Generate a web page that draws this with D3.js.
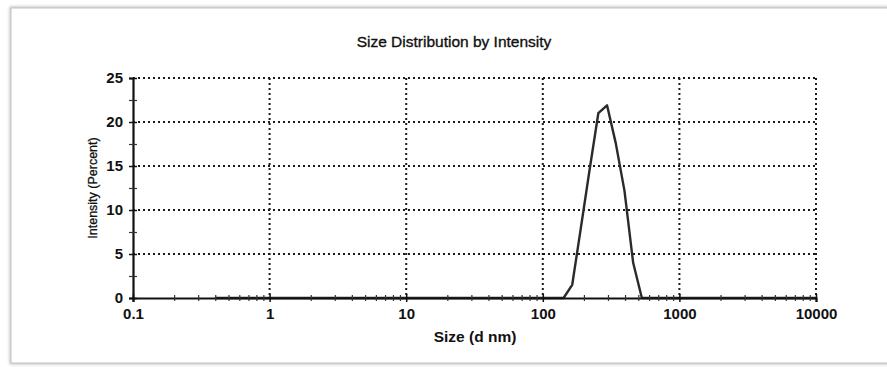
<!DOCTYPE html>
<html>
<head>
<meta charset="utf-8">
<script src="https://cdn.jsdelivr.net/npm/d3@7"></script>
<style>
  body { margin: 0; background: #fff; }
  text { font-family: "Liberation Sans", Arial, sans-serif; fill: #111; }
</style>
</head>
<body>
<script>
// size bins (d nm) and intensity (%)
const sizes = [0.4, 141.8, 164.2, 190.1, 220.2, 255.0, 295.3, 342.0, 396.1, 458.7, 531.2, 10000];
const intensity = [0, 0, 1.5, 8.0, 14.6, 21.0, 21.9, 17.6, 12.2, 4.0, 0, 0];
const xTicks = [0.1, 1, 10, 100, 1000, 10000];
const xTickLabels = ["0.1", "1", "10", "100", "1000", "10000"];
const yTicks = [0, 5, 10, 15, 20, 25];
const yMinorTicks = [2.5, 7.5, 12.5, 17.5, 22.5];

const WIDTH = 887, HEIGHT = 367;
const LEFT = 133, RIGHT = 816, TOP = 78, BOTTOM = 298;

var xScale = d3.scaleLog().domain([0.1, 10000]).range([LEFT, RIGHT]);
var yScale = d3.scaleLinear().domain([0, 25]).range([BOTTOM, TOP]);

var xMinor = [];
xTicks.slice(0, -1).forEach(function (d) {
  for (var k = 2; k <= 9; k++) xMinor.push(d * k);
});

var svg = d3.select("body").append("svg")
    .attr("width", WIDTH)
    .attr("height", HEIGHT);

// outer frame with soft shadow
var defs = svg.append("defs");
var f = defs.append("filter").attr("id", "sh").attr("x", "-5%").attr("y", "-5%").attr("width", "110%").attr("height", "110%");
f.append("feGaussianBlur").attr("stdDeviation", 1.5);
svg.append("rect")
    .attr("x", 11).attr("y", 8).attr("width", 900).attr("height", 355)
    .attr("fill", "none").attr("stroke", "#b5b5b5").attr("stroke-width", 2.5)
    .attr("filter", "url(#sh)");
svg.append("rect")
    .attr("x", 11).attr("y", 8).attr("width", 900).attr("height", 355)
    .attr("fill", "#fff").attr("stroke", "#c4c4c4").attr("stroke-width", 1);

// title
svg.append("text")
    .attr("x", 454).attr("y", 47)
    .attr("text-anchor", "middle")
    .style("font-size", "15.5px")
    .style("stroke", "#111").style("stroke-width", 0.35)
    .text("Size Distribution by Intensity");

// dotted grid
var grid = svg.append("g")
    .attr("stroke", "#1a1a1a").attr("stroke-width", 2)
    .attr("stroke-dasharray", "2,3");
grid.selectAll(".vg").data(xTicks.slice(1)).enter().append("line")
    .attr("x1", function (d) { return xScale(d); })
    .attr("x2", function (d) { return xScale(d); })
    .attr("y1", TOP).attr("y2", BOTTOM);
grid.selectAll(".hg").data(yTicks.slice(1)).enter().append("line")
    .attr("x1", LEFT).attr("x2", RIGHT)
    .attr("y1", function (d) { return yScale(d); })
    .attr("y2", function (d) { return yScale(d); });

// data line
var line = d3.line()
    .x(function (d, i) { return xScale(sizes[i]); })
    .y(function (d) { return yScale(d); });
svg.append("path")
    .attr("d", line(intensity))
    .attr("fill", "none")
    .attr("stroke", "#2a2a2a")
    .attr("stroke-width", 2.4)
    .attr("stroke-linejoin", "round");

// x axis
var xAxis = d3.axisBottom(xScale)
    .tickValues(xTicks)
    .tickFormat(function (d, i) { return xTickLabels[i]; })
    .tickSize(4).tickPadding(6);
var gx = svg.append("g").attr("transform", "translate(0," + BOTTOM + ")").call(xAxis);
gx.select(".domain").attr("stroke", "#111").attr("stroke-width", 2.2);
gx.selectAll(".tick line").attr("y1", -4).attr("stroke", "#111").attr("stroke-width", 1.5);
gx.selectAll(".tick text")
    .style("font-size", "15px").style("font-weight", "bold")
    .style("font-family", "Liberation Sans, Arial, sans-serif").attr("fill", "#111");

var xMinorAxis = d3.axisBottom(xScale).tickValues(xMinor).tickFormat("").tickSize(3);
var gxm = svg.append("g").attr("transform", "translate(0," + BOTTOM + ")").call(xMinorAxis);
gxm.select(".domain").remove();
gxm.selectAll(".tick line").attr("y1", -3).attr("stroke", "#333").attr("stroke-width", 1.2);

// y axis
var yAxis = d3.axisLeft(yScale).tickValues(yTicks).tickSize(4).tickPadding(6);
var gy = svg.append("g").attr("transform", "translate(" + LEFT + ",0)").call(yAxis);
gy.select(".domain").attr("stroke", "#111").attr("stroke-width", 2.2);
gy.selectAll(".tick line").attr("x1", 4).attr("stroke", "#111").attr("stroke-width", 1.5);
gy.selectAll(".tick text")
    .style("font-size", "15px").style("font-weight", "bold")
    .style("font-family", "Liberation Sans, Arial, sans-serif").attr("fill", "#111");

var yMinorAxis = d3.axisLeft(yScale).tickValues(yMinorTicks).tickFormat("").tickSize(4);
var gym = svg.append("g").attr("transform", "translate(" + LEFT + ",0)").call(yMinorAxis);
gym.select(".domain").remove();
gym.selectAll(".tick line").attr("x1", 4).attr("stroke", "#333").attr("stroke-width", 1.2);

// axis titles
svg.append("text")
    .attr("x", 475).attr("y", 342)
    .attr("text-anchor", "middle")
    .style("font-size", "15.5px").style("font-weight", "bold")
    .text("Size (d nm)");
svg.append("text")
    .attr("transform", "translate(97," + (TOP + BOTTOM) / 2 + ") rotate(-90)")
    .attr("text-anchor", "middle")
    .style("font-size", "12.5px")
    .style("stroke", "#111").style("stroke-width", 0.3)
    .text("Intensity (Percent)");
</script>
</body>
</html>
